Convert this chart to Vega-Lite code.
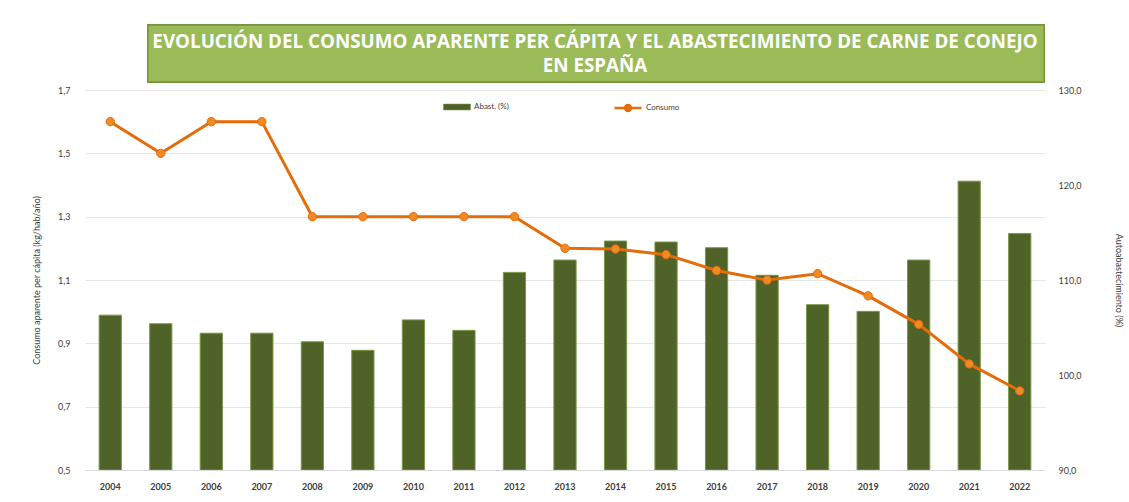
{
  "$schema": "https://vega.github.io/schema/vega-lite/v6.json",
  "width": 960,
  "height": 380,
  "autosize": {"type": "none"},
  "padding": {"left": 85, "top": 90, "right": 84, "bottom": 32},
  "background": "white",
  "config": {
    "locale": {"number": {"decimal": ",", "thousands": ".", "grouping": [3], "currency": ["", " €"]}},
    "font": "Lato",
    "view": {"stroke": null}
  },
  "title": {
    "text": ["EVOLUCIÓN DEL CONSUMO APARENTE PER CÁPITA Y EL ABASTECIMIENTO DE CARNE DE CONEJO", "EN ESPAÑA"],
    "color": "white",
    "font": "Open Sans",
    "fontSize": 18.8,
    "fontWeight": "bold",
    "lineHeight": 24,
    "anchor": "middle",
    "dx": 30,
    "offset": -51,
    "zindex": 2
  },
  "data": {"values": [
    {"year": "2004", "abast": 106.3, "consumo": 1.60},
    {"year": "2005", "abast": 105.4, "consumo": 1.50},
    {"year": "2006", "abast": 104.4, "consumo": 1.60},
    {"year": "2007", "abast": 104.4, "consumo": 1.60},
    {"year": "2008", "abast": 103.5, "consumo": 1.30},
    {"year": "2009", "abast": 102.6, "consumo": 1.30},
    {"year": "2010", "abast": 105.8, "consumo": 1.30},
    {"year": "2011", "abast": 104.7, "consumo": 1.30},
    {"year": "2012", "abast": 110.8, "consumo": 1.30},
    {"year": "2013", "abast": 112.1, "consumo": 1.20},
    {"year": "2014", "abast": 114.1, "consumo": 1.198},
    {"year": "2015", "abast": 114.0, "consumo": 1.18},
    {"year": "2016", "abast": 113.4, "consumo": 1.13},
    {"year": "2017", "abast": 110.5, "consumo": 1.10},
    {"year": "2018", "abast": 107.4, "consumo": 1.12},
    {"year": "2019", "abast": 106.7, "consumo": 1.05},
    {"year": "2020", "abast": 112.1, "consumo": 0.96},
    {"year": "2021", "abast": 120.4, "consumo": 0.835},
    {"year": "2022", "abast": 114.9, "consumo": 0.75}
  ]},
  "encoding": {
    "x": {
      "field": "year", "type": "ordinal", "title": null,
      "scale": {"paddingInner": 0.56, "paddingOuter": 0.28},
      "axis": {"labelAngle": 0, "labelFontSize": 9, "labelFontWeight": "bold", "labelColor": "#404040", "ticks": false, "domainColor": "#D9D9D9", "labelPadding": 12, "grid": false}
    }
  },
  "layer": [
    {
      "mark": {"type": "rect", "fill": "#9BBB59", "stroke": "#77933C", "strokeWidth": 1.5, "clip": false},
      "encoding": {
        "x": {"datum": "2005", "bandPosition": -0.08},
        "x2": {"datum": "2022", "bandPosition": 1.6},
        "y": {"datum": 1.725, "type": "quantitative", "scale": {"domain": [0.5, 1.7], "nice": false, "zero": false}, "axis": null},
        "y2": {"datum": 1.905}
      }
    },
    {
      "mark": {"type": "bar", "stroke": "#7A9845", "strokeWidth": 1, "fill": "#4F6228"},
      "encoding": {
        "y": {
          "field": "abast", "type": "quantitative",
          "scale": {"domain": [90, 130], "nice": false, "zero": false},
          "axis": {"orient": "right", "title": "Autoabastecimiento (%)", "format": ".1f", "values": [90, 100, 110, 120, 130], "grid": false, "ticks": false, "domain": false, "labelFontSize": 9, "labelColor": "#404040", "labelPadding": 13, "titleFontSize": 9, "titleFontWeight": "normal", "titleColor": "#404040", "titlePadding": 33}
        },
        "y2": {"datum": 90},
        "fill": {"datum": "Abast. (%)", "type": "nominal", "scale": {"range": ["#4F6228"]},
          "legend": {"orient": "none", "legendX": 358, "legendY": 3, "title": null, "symbolType": "M-1,-0.22H1V0.22H-1Z", "symbolSize": 730, "symbolStrokeColor": "#77933C", "symbolStrokeWidth": 0.5, "labelFontSize": 8, "labelColor": "#404040", "labelOffset": 3}}
      }
    },
    {
      "mark": {"type": "line", "color": "#E46C0A", "strokeWidth": 3, "point": {"filled": true, "size": 70, "fill": "#F08A24", "stroke": "#C65A08", "strokeWidth": 1}},
      "encoding": {
        "y": {
          "field": "consumo", "type": "quantitative",
          "scale": {"domain": [0.5, 1.7], "nice": false, "zero": false},
          "axis": {"orient": "left", "title": "Consumo aparente per cápita (kg/hab/año)", "format": ".1f", "values": [0.5, 0.7, 0.9, 1.1, 1.3, 1.5, 1.7], "grid": true, "gridColor": "#E6E6E6", "ticks": false, "domain": false, "labelFontSize": 9, "labelColor": "#404040", "labelPadding": 15, "titleFontSize": 9, "titleFontWeight": "normal", "titleColor": "#404040", "titlePadding": 16}
        },
        "stroke": {"datum": "Consumo", "type": "nominal", "scale": {"range": ["#E46C0A"]},
          "legend": {"orient": "none", "legendX": 528, "legendY": 3, "title": null, "symbolType": "M-1,0H1M0.22,0A0.22,0.22,0,1,1,-0.22,0A0.22,0.22,0,1,1,0.22,0Z", "symbolSize": 730, "symbolStrokeWidth": 2.5, "symbolFillColor": "#F08A24", "labelFontSize": 8, "labelColor": "#404040", "labelOffset": 3}}
      }
    }
  ],
  "resolve": {"scale": {"y": "independent", "fill": "independent", "stroke": "independent"}}
}
